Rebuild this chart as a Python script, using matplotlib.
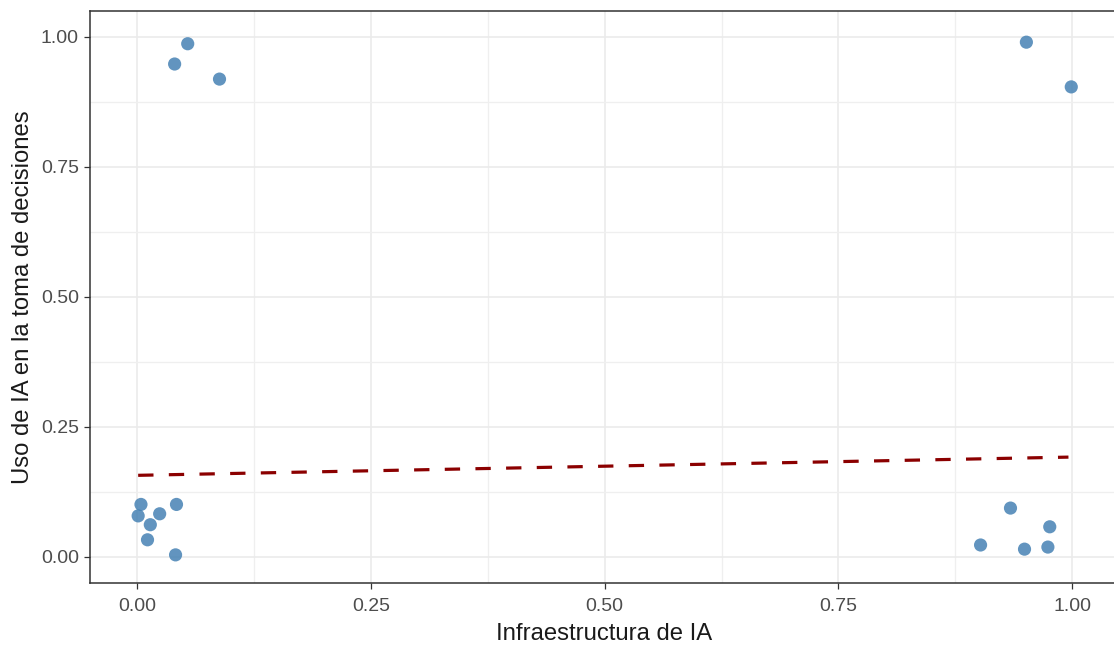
import numpy as np
import matplotlib.pyplot as plt
from matplotlib.ticker import MultipleLocator

plt.rcParams['font.family'] = ['Liberation Sans', 'DejaVu Sans']

infra = [0.054, 0.040, 0.088, 0.004, 0.042, 0.001, 0.024, 0.014, 0.011, 0.041,
         0.951, 0.999, 0.934, 0.976, 0.902, 0.949, 0.974]
uso = [0.987, 0.948, 0.919, 0.101, 0.101, 0.079, 0.083, 0.062, 0.033, 0.004,
       0.990, 0.904, 0.094, 0.058, 0.023, 0.015, 0.019]

# fitted line ends
fit_x = [0.001, 0.996]
fit_y = [0.157, 0.192]

ticks = [0.0, 0.25, 0.5, 0.75, 1.0]
tick_labels = ['0.00', '0.25', '0.50', '0.75', '1.00']

fig = plt.figure(figsize=(11.14, 6.46), dpi=100)
ax = fig.add_axes([0.0808, 0.098, 0.9228, 0.885])

ax.scatter(infra, uso, s=90, color='#4682B4', alpha=0.85, edgecolors='none', zorder=3)
ax.plot(fit_x, fit_y, color='#8B0000', lw=2.3, dashes=(4.8, 4.8), zorder=2)

ax.set_xlim(-0.0505, 1.049)
ax.set_ylim(-0.0495, 1.05)
ax.set_xticks(ticks)
ax.set_xticklabels(tick_labels)
ax.set_yticks(ticks)
ax.set_yticklabels(tick_labels)
ax.xaxis.set_minor_locator(MultipleLocator(0.125))
ax.yaxis.set_minor_locator(MultipleLocator(0.125))
ax.grid(True, which='major', color='#EBEBEB', lw=1.2, zorder=0)
ax.grid(True, which='minor', color='#EFEFEF', lw=0.9, zorder=0)
ax.set_axisbelow(True)
ax.tick_params(which='minor', length=0)
ax.tick_params(which='major', length=4, width=0.9, color='#333333',
               labelcolor='#4D4D4D', labelsize=14, pad=4)
ax.tick_params(axis='x', pad=7)

for sp in ax.spines.values():
    sp.set_color('#333333')
    sp.set_linewidth(1.1)

ax.set_xlabel('Infraestructura de IA', fontsize=17.2, color='#1A1A1A', labelpad=6)
ax.set_ylabel('Uso de IA en la toma de decisiones', fontsize=17.2, color='#1A1A1A', labelpad=5)

plt.savefig('out.png', dpi=100)
